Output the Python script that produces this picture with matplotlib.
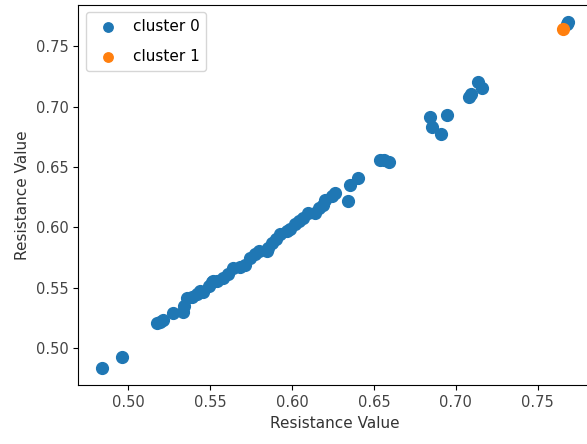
import numpy as np
import matplotlib
matplotlib.use("Agg")
import matplotlib.pyplot as plt

# cluster 0
x0 = [0.4836, 0.4963, 0.5173, 0.5194, 0.5214, 0.5275, 0.5336, 0.5340, 0.5357, 0.5387,
      0.5418, 0.5438, 0.5458, 0.5489, 0.5509, 0.5519, 0.5540, 0.5580, 0.5611, 0.5641,
      0.5682, 0.5713, 0.5743, 0.5774, 0.5798, 0.5845, 0.5855, 0.5876, 0.5902, 0.5926,
      0.5967, 0.5987, 0.6018, 0.6042, 0.6069, 0.6099, 0.6140, 0.6165, 0.6191, 0.6201,
      0.6242, 0.6262, 0.6343, 0.6354, 0.6404, 0.6537, 0.6561, 0.6592, 0.6842, 0.6853,
      0.6909, 0.6948, 0.7082, 0.7093, 0.7137, 0.7158, 0.7676, 0.7685]
y0 = [0.4833, 0.4926, 0.5203, 0.5212, 0.5228, 0.5288, 0.5296, 0.5351, 0.5417, 0.5420,
      0.5448, 0.5475, 0.5461, 0.5516, 0.5543, 0.5557, 0.5557, 0.5582, 0.5612, 0.5664,
      0.5667, 0.5689, 0.5747, 0.5780, 0.5804, 0.5804, 0.5831, 0.5873, 0.5903, 0.5942,
      0.5969, 0.5985, 0.6024, 0.6051, 0.6078, 0.6120, 0.6120, 0.6158, 0.6189, 0.6230,
      0.6257, 0.6284, 0.6216, 0.6353, 0.6408, 0.6559, 0.6562, 0.6545, 0.6916, 0.6833,
      0.6770, 0.6930, 0.7080, 0.7107, 0.7204, 0.7154, 0.7685, 0.7702]

# cluster 1
x1 = [0.7655]
y1 = [0.7644]

fig = plt.figure(figsize=(5.87, 4.44), dpi=100)
ax = fig.add_axes([78.3 / 587, 58.6 / 444, 513 / 587, 380.7 / 444])

ax.scatter(x0, y0, s=72, color='#1f77b4', label='cluster 0')
ax.scatter(x1, y1, s=72, color='#ff7f0e', label='cluster 1')

ax.set_xlabel('Resistance Value', fontsize=11, color='#333333')
ax.set_ylabel('Resistance Value', fontsize=11, color='#333333')
ax.set_xticks([0.50, 0.55, 0.60, 0.65, 0.70, 0.75])
ax.set_yticks([0.50, 0.55, 0.60, 0.65, 0.70, 0.75])
ax.tick_params(labelsize=10.5, labelcolor='#444444')
ax.legend(loc='upper left', fontsize=11, labelspacing=1.0, markerscale=0.8,
          borderpad=0.45, handletextpad=0.6)

fig.savefig('out.png', dpi=100)
